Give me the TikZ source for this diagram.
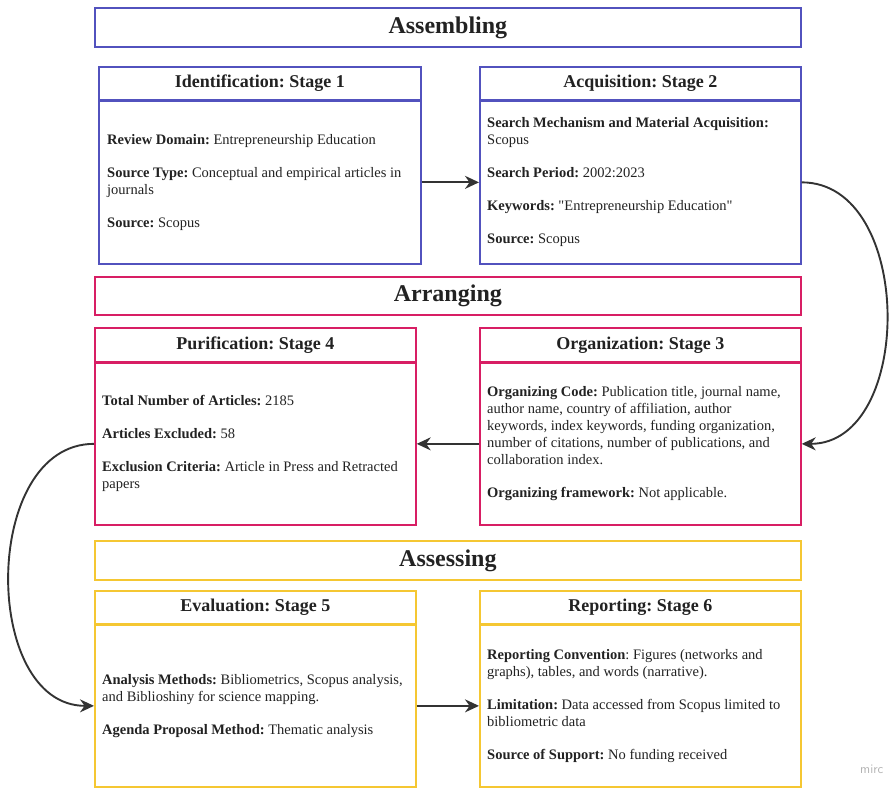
\documentclass[tikz,border=0pt]{standalone}
\usepackage{fontspec}
\setmainfont{Liberation Serif}
\usetikzlibrary{arrows.meta}
\definecolor{cblue}{HTML}{5252BE}
\definecolor{cpink}{HTML}{D81E64}
\definecolor{cyel}{HTML}{F5C732}
\definecolor{carrow}{HTML}{333333}
\definecolor{ctext}{HTML}{222222}
\frenchspacing
\begin{document}
\begin{tikzpicture}[x=1pt,y=-1pt,
  boxframe/.style={draw=#1, line width=1.7pt, fill=white, inner sep=0pt, anchor=north west, text=ctext},
  phasetitle/.style={font=\fontsize{24}{28}\selectfont\bfseries},
  stagehead/.style={font=\fontsize{18}{21}\selectfont\bfseries},
  bodytext/.style={font=\fontsize{14.5}{17}\selectfont\frenchspacing, align=left, anchor=west, inner sep=0pt, text=ctext},
  flow/.style={draw=carrow, line width=1.9pt, -{Stealth[length=14pt,width=13pt]}}]
\useasboundingbox (0,0) rectangle (890,788);

% Assembling
\node[boxframe=cblue, phasetitle, minimum width=706pt, minimum height=39pt] (assembling) at (94,7) {Assembling};
\node[boxframe=cblue, stagehead, minimum width=322pt, minimum height=33pt] (idh) at (98,66) {Identification: Stage 1};
\node[boxframe=cblue, minimum width=322pt, minimum height=163pt] (idb) at (98,100) {};
\node[boxframe=cblue, stagehead, minimum width=321pt, minimum height=33pt] (acqh) at (479,66) {Acquisition: Stage 2};
\node[boxframe=cblue, minimum width=321pt, minimum height=163pt] (acqb) at (479,100) {};

\node[bodytext] (idt) at ([xshift=9pt]idb.west) {\textbf{Review Domain:} Entrepreneurship Education\\[16pt]
\textbf{Source Type:} Conceptual and empirical articles in\\ journals\\[16pt]
\textbf{Source:} Scopus};
\node[bodytext] (acqt) at ([xshift=8pt]acqb.west) {\textbf{Search Mechanism and Material Acquisition:}\\ Scopus\\[16pt]
\textbf{Search Period:} 2002:2023\\[16pt]
\textbf{Keywords:} \textquotedbl Entrepreneurship Education\textquotedbl\\[16pt]
\textbf{Source:} Scopus};

% Arranging
\node[boxframe=cpink, phasetitle, minimum width=706pt, minimum height=38pt] (arranging) at (94,276) {Arranging};
\node[boxframe=cpink, stagehead, minimum width=321pt, minimum height=34pt] (purh) at (94,327) {Purification: Stage 4};
\node[boxframe=cpink, minimum width=321pt, minimum height=162pt] (purb) at (94,362) {};
\node[boxframe=cpink, stagehead, minimum width=321pt, minimum height=34pt] (orgh) at (479,327) {Organization: Stage 3};
\node[boxframe=cpink, minimum width=321pt, minimum height=162pt] (orgb) at (479,362) {};

\node[bodytext] (purt) at ([xshift=8pt]purb.west) {\textbf{Total Number of Articles:} 2185\\[16pt]
\textbf{Articles Excluded:} 58\\[16pt]
\textbf{Exclusion Criteria:} Article in Press and Retracted\\ papers};
\node[bodytext] (orgt) at ([xshift=8pt]orgb.west) {\textbf{Organizing Code:} Publication title, journal name,\\ author name, country of affiliation, author\\ keywords, index keywords, funding organization,\\ number of citations, number of publications, and\\ collaboration index.\\[16pt]
\textbf{Organizing framework:} Not applicable.};

% Assessing
\node[boxframe=cyel, phasetitle, minimum width=706pt, minimum height=39pt] (assessing) at (94,540) {Assessing};
\node[boxframe=cyel, stagehead, minimum width=321pt, minimum height=33pt] (evh) at (94,590) {Evaluation: Stage 5};
\node[boxframe=cyel, minimum width=321pt, minimum height=162pt] (evb) at (94,624) {};
\node[boxframe=cyel, stagehead, minimum width=321pt, minimum height=33pt] (reph) at (479,590) {Reporting: Stage 6};
\node[boxframe=cyel, minimum width=321pt, minimum height=162pt] (repb) at (479,624) {};

\node[bodytext] (evt) at ([xshift=8pt]evb.west) {\textbf{Analysis Methods:} Bibliometrics, Scopus analysis,\\ and Biblioshiny for science mapping.\\[16pt]
\textbf{Agenda Proposal Method:} Thematic analysis};
\node[bodytext] (rept) at ([xshift=8pt]repb.west) {\textbf{Reporting Convention}: Figures (networks and\\ graphs), tables, and words (narrative).\\[16pt]
\textbf{Limitation:} Data accessed from Scopus limited to\\ bibliometric data\\[16pt]
\textbf{Source of Support:} No funding received};

% connectors
\draw[flow] (idb.east) -- (acqb.west);
\draw[flow] (acqb.east) .. controls +(113,0) and +(113,0) .. (orgb.east);
\draw[flow] (orgb.west) -- (purb.east);
\draw[flow] (purb.west) .. controls +(-113,0) and +(-113,0) .. (evb.west);
\draw[flow] (evb.east) -- (repb.west);

% watermark
\node[anchor=west, inner sep=0pt, text=black!30, font=\sffamily\fontsize{13}{15}\selectfont] (wm) at (860,769) {mirc};
\end{tikzpicture}
\end{document}
